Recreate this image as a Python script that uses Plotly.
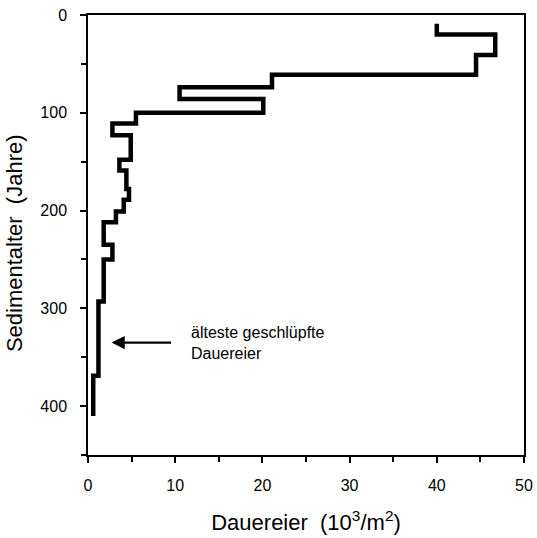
import plotly.graph_objects as go

# Step profile: value over depth interval [depth_top[i], depth_top[i+1]]
values = [40.0, 46.7, 44.5, 21.1, 10.5, 20.1, 5.5, 2.8, 4.9, 3.6, 4.4, 4.7, 4.1, 3.2, 1.8, 2.8, 1.8, 1.2, 0.6]
depth_top = [9, 20, 41, 61, 74, 86, 100, 111, 123, 148, 159, 178, 189, 201, 212, 235, 250, 293, 369]
depth_end = 410

x_ticks = [0, 10, 20, 30, 40, 50]
y_ticks = [0, 100, 200, 300, 400]

xs = values + [values[-1]]
ys = depth_top + [depth_end]

FONT = "Liberation Sans, Arial, Helvetica"

fig = go.Figure()
fig.add_trace(go.Scatter(x=xs, y=ys, mode="lines", line=dict(color="black", width=4.5, shape="vh"),
                         hoverinfo="skip", showlegend=False))

fig.add_annotation(x=2.7, y=335, ax=9.7, ay=335, xref="x", yref="y", axref="x", ayref="y",
                   showarrow=True, arrowhead=2, arrowsize=1.2, arrowwidth=2.2, arrowcolor="black", text="")
fig.add_annotation(x=11.6, y=335, xref="x", yref="y", text="älteste geschlüpfte<br>Dauereier",
                   showarrow=False, xanchor="left", yanchor="middle", align="left",
                   font=dict(family=FONT, size=16, color="black"))
# y-axis title
fig.add_annotation(x=-0.167, y=0.482, xref="paper", yref="paper", text="Sedimentalter  (Jahre)",
                   textangle=-90, showarrow=False, xanchor="center", yanchor="middle",
                   font=dict(family=FONT, size=22, color="black"))

axis_common = dict(showgrid=False, zeroline=False, showline=True, linecolor="black", linewidth=1.5,
                   mirror=True, ticks="outside", ticklen=6, tickwidth=1.5, tickcolor="black",
                   automargin=False,
                   tickfont=dict(family=FONT, size=16, color="black"))

fig.update_xaxes(range=[0, 50], tickvals=x_ticks, ticklabelstandoff=9,
                 minor=dict(dtick=5, ticks="outside", ticklen=5, tickcolor="black", tickwidth=1.5),
                 title=dict(text="Dauereier  (10<sup>3</sup>/m<sup>2</sup>)", standoff=22,
                            font=dict(family=FONT, size=22, color="black")),
                 **axis_common)
fig.update_yaxes(range=[450, 0], tickvals=y_ticks, ticklabelstandoff=10,
                 minor=dict(dtick=50, ticks="outside", ticklen=5, tickcolor="black", tickwidth=1.5),
                 **axis_common)

fig.update_layout(width=537, height=538, margin=dict(l=88, r=13, t=15, b=83),
                  plot_bgcolor="white", paper_bgcolor="white")

fig.write_html("out.html", config={"displayModeBar": False},
               post_script="document.body.style.margin='0';")
